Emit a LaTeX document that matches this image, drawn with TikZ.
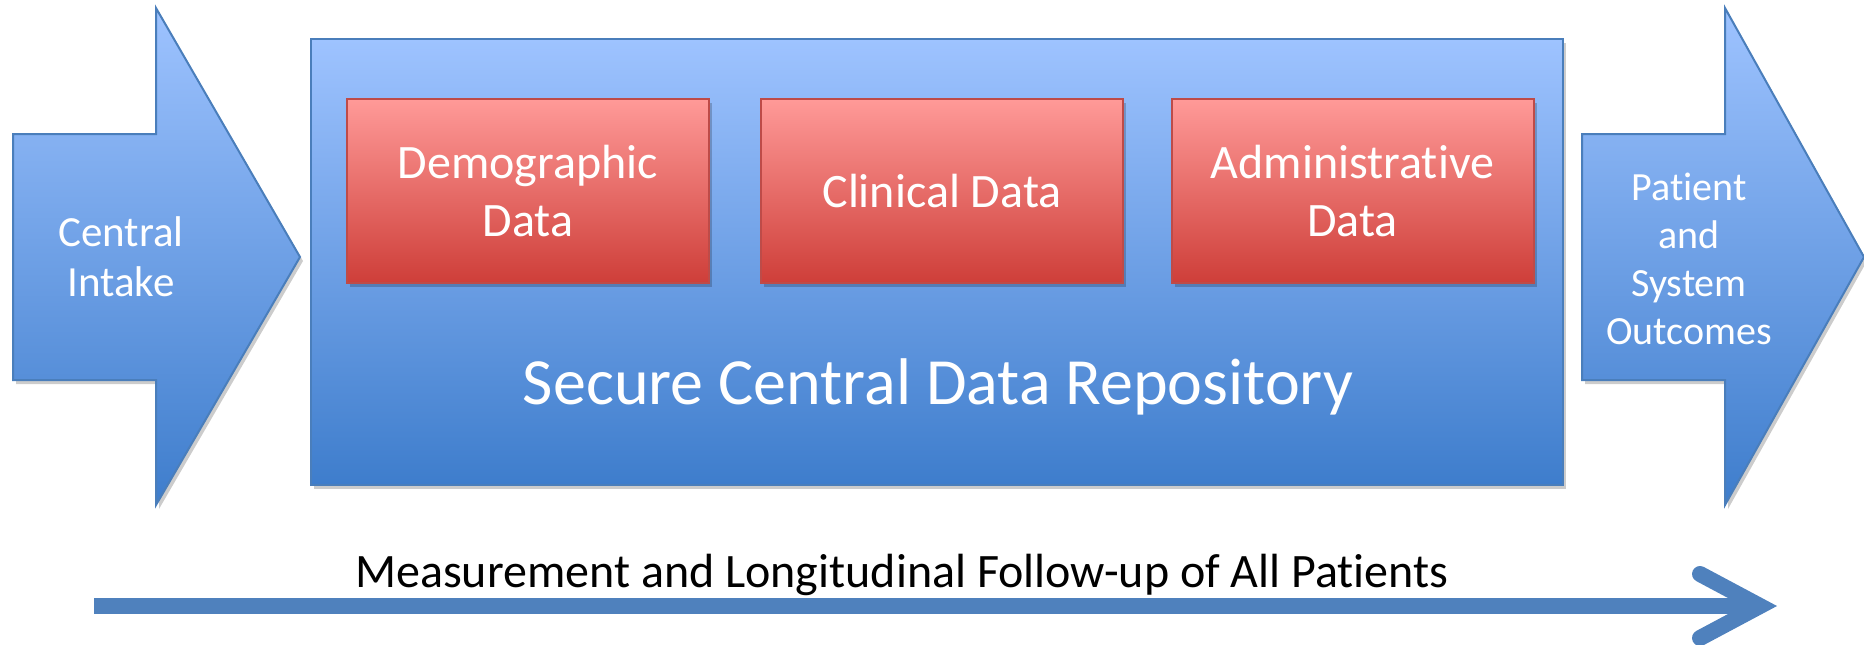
\documentclass[tikz,border=0pt]{standalone}
\usepackage{fontspec}
\setmainfont{Carlito}[Ligatures=NoCommon]
\usetikzlibrary{arrows.meta,shadows}

\definecolor{bluetop}{HTML}{9EC3FF}
\definecolor{bluebot}{HTML}{3E7DCC}
\definecolor{blueline}{HTML}{4A7EBB}
\definecolor{redtop}{HTML}{FF9A98}
\definecolor{redbot}{HTML}{CE3E39}
\definecolor{redline}{HTML}{BE4B48}
\definecolor{flowblue}{HTML}{4F81BD}

\tikzset{
  softshadow/.style={drop shadow={shadow xshift=1.5pt,shadow yshift=-2pt,opacity=0.2,fill=black}},
  bluefill/.style={draw=blueline,line width=1pt,top color=bluetop,bottom color=bluebot,softshadow},
  databox/.style={draw=redline,line width=1pt,top color=redtop,bottom color=redbot,softshadow,
    minimum width=181pt,minimum height=92pt,inner sep=0pt,text=white,
    font=\fontsize{24}{29}\selectfont,align=center},
  arrowtext/.style={text=white,align=center},
}

\begin{document}
\begin{tikzpicture}[x=0.5pt,y=-0.5pt]
    \useasboundingbox (0,0) rectangle (1864,644);

    % Draw the intake arrow
    \draw[bluefill] (13,134) -- (156,134) -- (156,8) -- (300,257) -- (156,505) -- (156,380) -- (13,380) -- cycle;
    \node[arrowtext,font=\fontsize{21.5}{25}\selectfont] (intake) at (121,257) {Central\\Intake};

    % Draw the repository and its three data boxes
    \node[bluefill,minimum width=626pt,minimum height=223pt,inner sep=0pt] (repo) at (937,262) {};
    \node[text=white,font=\fontsize{33}{40}\selectfont,anchor=base] (repotitle) at (938,404) {Secure Central Data Repository};
    \node[databox] (demo) at (528,191) {Demographic\\Data};
    \node[databox] (clin) at (942,191) {Clinical Data};
    \node[databox] (admin) at (1352.5,191) {Administrative\\Data};

    % Draw the outcomes arrow
    \draw[bluefill] (1582,134) -- (1725,134) -- (1725,8) -- (1864,257) -- (1725,505) -- (1725,380) -- (1582,380) -- cycle;
    \node[arrowtext,font=\fontsize{20}{24}\selectfont] (outcomes) at (1689,259) {Patient\\and\\System\\Outcomes};

    % Draw the follow-up arrow and its label
    \coordinate (fstart) at (94,606);
    \coordinate (fend) at (1777,606);
    \draw[flowblue,line width=8pt,-{Straight Barb[length=30pt,width=32pt,line cap=round]}] (fstart) -- (fend);
    \node[font=\fontsize{24}{28}\selectfont,anchor=base] (followup) at (902,587) {Measurement and Longitudinal Follow-up of All Patients};
\end{tikzpicture}
\end{document}
